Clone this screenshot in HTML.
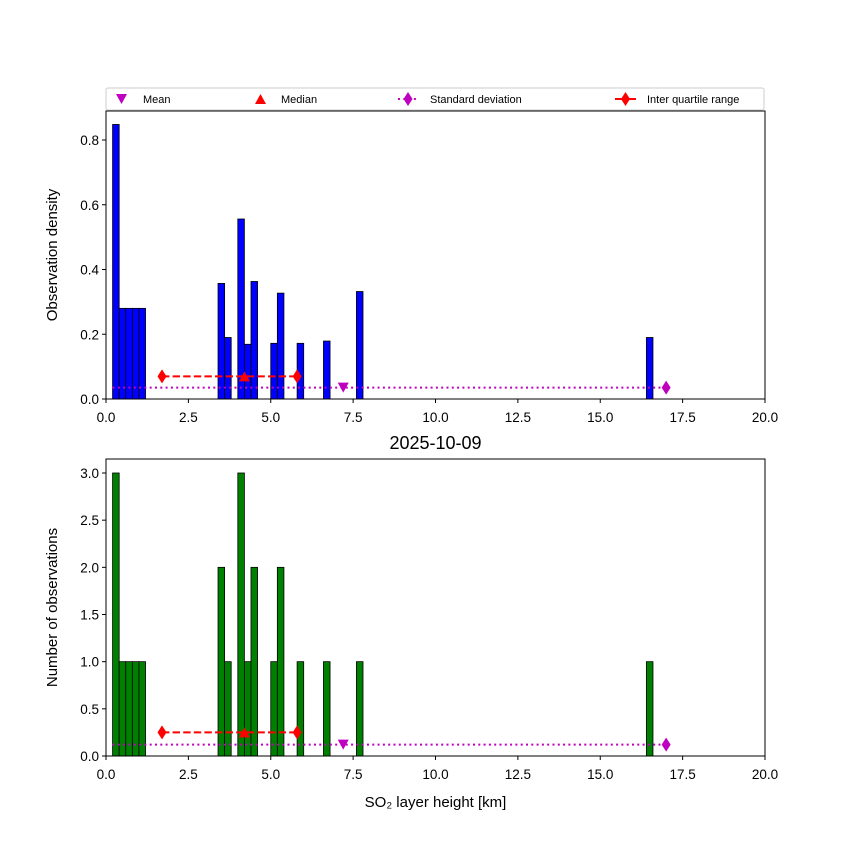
<!DOCTYPE html>
<html><head><meta charset="utf-8"><style>
body{margin:0;background:#fff;}
svg text{font-family:"Liberation Sans","DejaVu Sans",sans-serif;}
</style></head><body>
<svg id="c" width="850" height="850" xmlns="http://www.w3.org/2000/svg"></svg>
<script>
const binStarts=[0.2,0.4,0.6,0.8,1.0,3.4,3.6,4.0,4.2,4.4,5.0,5.2,5.8,6.6,7.6,16.4];
const binWidth=0.2;
const densityValues=[0.848,0.28,0.28,0.28,0.28,0.357,0.19,0.556,0.169,0.363,0.172,0.327,0.172,0.179,0.332,0.19];
const countValues=[3,1,1,1,1,2,1,3,1,2,1,2,1,1,1,1];
const xTicks=[0,2.5,5,7.5,10,12.5,15,17.5,20];
const xTickLabels=["0.0","2.5","5.0","7.5","10.0","12.5","15.0","17.5","20.0"];
const topYTicks=[0,0.2,0.4,0.6,0.8];
const topYLabels=["0.0","0.2","0.4","0.6","0.8"];
const botYTicks=[0,0.5,1,1.5,2,2.5,3];
const botYLabels=["0.0","0.5","1.0","1.5","2.0","2.5","3.0"];
const statMean=7.2, statMedian=4.2, iqrLow=1.7, iqrHigh=5.8, stdLow=0.2, stdHigh=17.0;
const topMarkerY=[0.07,0.035];
const botMarkerY=[0.25,0.12];

const svg=document.getElementById('c');
const NS='http://www.w3.org/2000/svg';
function mk(tag,attrs,parent,text){const e=document.createElementNS(NS,tag);for(const k in attrs)e.setAttribute(k,attrs[k]);if(text!==undefined)e.textContent=text;(parent||svg).appendChild(e);return e;}
const X0=106,X1=765;
const xs=v=>X0+(v-0)/(20-0)*(X1-X0);

function panel(name,top,bottom,ymax,yTicks,yLabels,vals,color,ylabel,my){
  const g=mk('g',{});
  
  
  const ys=v=>bottom-v/ymax*(bottom-top);
  binStarts.forEach((b,i)=>{
    const r=mk('rect',{x:xs(b),y:ys(vals[i]),width:xs(b+binWidth)-xs(b),height:bottom-ys(vals[i]),fill:color,stroke:'#000','stroke-width':0.8},g);
    
    
  });
  const sd=mk('line',{x1:xs(stdLow),x2:xs(stdHigh),y1:ys(my[1]),y2:ys(my[1]),stroke:'#bf00bf','stroke-width':2,'stroke-dasharray':'2,3.3'},g);
  
  
  const yd=ys(my[1]);
  mk('path',{d:`M${xs(stdHigh)},${yd-7} L${xs(stdHigh)+4.5},${yd} L${xs(stdHigh)},${yd+7} L${xs(stdHigh)-4.5},${yd} Z`,fill:'#bf00bf'},g);
  const mx=xs(statMean);
  const mm=mk('path',{d:`M${mx-5.5},${yd-5} L${mx+5.5},${yd-5} L${mx},${yd+5} Z`,fill:'#bf00bf'},g);
  
  
  const yi=ys(my[0]);
  const iq=mk('line',{x1:xs(iqrLow),x2:xs(iqrHigh),y1:yi,y2:yi,stroke:'#ff0000','stroke-width':2,'stroke-dasharray':'7.4,3.2'},g);
  
  
  [iqrLow,iqrHigh].forEach(v=>{const x=xs(v);mk('path',{d:`M${x},${yi-7} L${x+4.5},${yi} L${x},${yi+7} L${x-4.5},${yi} Z`,fill:'#ff0000'},g);});
  const md=xs(statMedian);
  const me=mk('path',{d:`M${md-5.5},${yi+5} L${md+5.5},${yi+5} L${md},${yi-5} Z`,fill:'#ff0000'},g);
  
  
  mk('rect',{x:X0,y:top,width:X1-X0,height:bottom-top,fill:'none',stroke:'#000','stroke-width':1},g);
  xTicks.forEach((t,i)=>{const x=xs(t);mk('line',{x1:x,x2:x,y1:bottom,y2:bottom+4,stroke:'#000'},g);
    const tl=mk('text',{x:x,y:bottom+23,'text-anchor':'middle','font-size':'13.5'},g,xTickLabels[i]);
    });
  yTicks.forEach((t,i)=>{const y=ys(t);mk('line',{x1:X0-4,x2:X0,y1:y,y2:y,stroke:'#000'},g);
    const tl=mk('text',{x:X0-7,y:y+5,'text-anchor':'end','font-size':'13.5'},g,yLabels[i]);
    });
  const yl=mk('text',{x:0,y:0,transform:`translate(57,${(top+bottom)/2}) rotate(-90)`,'text-anchor':'middle','font-size':'15'},g,ylabel);
  
  
}
panel('density-panel',111,399,0.8/((399-140)/(399-111)),topYTicks,topYLabels,densityValues,'#0000ff','Observation density',topMarkerY);
panel('count-panel',459,756,3.0/((756-473)/(756-459)),botYTicks,botYLabels,countValues,'#008000','Number of observations',botMarkerY);

const ti=mk('text',{x:435.5,y:449,'text-anchor':'middle','font-size':'18'},svg,'2025-10-09');


const xl=mk('text',{x:435.5,y:807,'text-anchor':'middle','font-size':'15'},svg,'SO₂ layer height [km]');



const lg=mk('g',{});


mk('rect',{x:106,y:88,width:658,height:22,rx:2,fill:'#fff',stroke:'#ccc'},lg);
const ly=99;
mk('path',{d:`M116,${ly-5} L127,${ly-5} L121.5,${ly+5} Z`,fill:'#bf00bf'},lg);
mk('text',{x:143,y:ly+4,'font-size':'11'},lg,'Mean');
mk('path',{d:`M255,${ly+5} L266,${ly+5} L260.5,${ly-5} Z`,fill:'#ff0000'},lg);
mk('text',{x:281,y:ly+4,'font-size':'11'},lg,'Median');
mk('line',{x1:398,x2:418,y1:ly,y2:ly,stroke:'#bf00bf','stroke-width':2,'stroke-dasharray':'2,3.3'},lg);
mk('path',{d:`M408,${ly-7} L412.5,${ly} L408,${ly+7} L403.5,${ly} Z`,fill:'#bf00bf'},lg);
mk('text',{x:430,y:ly+4,'font-size':'11'},lg,'Standard deviation');
mk('line',{x1:615,x2:636,y1:ly,y2:ly,stroke:'#ff0000','stroke-width':2},lg);
mk('path',{d:`M625.5,${ly-7} L630,${ly} L625.5,${ly+7} L621,${ly} Z`,fill:'#ff0000'},lg);
mk('text',{x:647,y:ly+4,'font-size':'11'},lg,'Inter quartile range');
</script>
</body></html>
